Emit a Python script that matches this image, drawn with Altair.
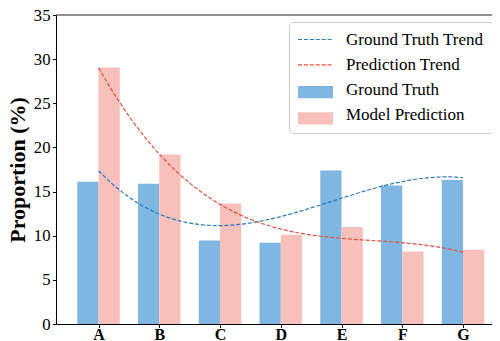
import altair as alt
import pandas as pd

# ---- data ----
categories = ["A", "B", "C", "D", "E", "F", "G"]
ground_truth = [16.1, 15.9, 9.45, 9.2, 17.4, 15.7, 16.3]
model_prediction = [29.05, 19.2, 13.65, 10.1, 11.0, 8.2, 8.4]
y_ticks = [0, 5, 10, 15, 20, 25, 30, 35]

bar_names = ["Ground Truth", "Model Prediction"]
trend_names = ["Ground Truth Trend", "Prediction Trend"]
legend_names = trend_names + bar_names

# ---- styling ----
FONT = "Liberation Serif"
GT_BAR, PR_BAR = "#7fb7e2", "#f7c0bb"
GT_LINE, PR_LINE = "#2a7cc0", "#e8503c"
BAR_W = 0.35
W, H = 436, 309
X_DOMAIN = [-0.70, -0.70 + W / 60.75]
Y_DOMAIN = [0, 35]

idx = list(range(len(categories)))
bars_df = pd.DataFrame({
    "category": categories * 2,
    "idx": idx * 2,
    "series": [bar_names[0]] * len(categories) + [bar_names[1]] * len(categories),
    "value": ground_truth + model_prediction,
})
trend_df = pd.DataFrame({
    "idx": idx * 2,
    "trend": [trend_names[0]] * len(categories) + [trend_names[1]] * len(categories),
    "value": ground_truth + model_prediction,
})

label_expr = "[" + ",".join("'%s'" % c for c in categories) + "][datum.value]"

x_scale = alt.Scale(domain=X_DOMAIN, nice=False, zero=False)
y_scale = alt.Scale(domain=Y_DOMAIN, nice=False)

x_axis = alt.Axis(values=idx, labelExpr=label_expr, title=None, grid=False,
                  labelFontWeight="bold", labelFontSize=16, labelPadding=-1)
y_axis = alt.Axis(values=y_ticks, title="Proportion (%)", grid=False,
                  titlePadding=4)

common_legend = dict(
    title=None, orient="none", legendX=233, legendY=7, padding=9,
    symbolSize=196, symbolStrokeWidth=1.2, symbolOffset=9,
    labelOffset=22, labelFont=FONT, labelFontSize=17, labelColor="black",
    rowPadding=7.3, labelLimit=400,
)

fill_dummy = " "
# Legend of the trend lines: all four labels, dashed strokes on the first two rows
stroke_legend = alt.Legend(
    symbolType="M-2.5,0H2.5", symbolDash=[4.1, 1.8],
    strokeColor="#cccccc", fillColor="white", cornerRadius=4, zindex=1,
    **common_legend)
# Legend of the bars: rectangles overlaid on rows 3 and 4, labels hidden
fill_legend = alt.Legend(
    symbolType="M-2.5,-0.875H2.5V0.875H-2.5Z", labelOpacity=0,
    symbolStrokeColor="transparent",
    strokeColor="transparent", fillColor="transparent", zindex=2,
    **common_legend)

bars = alt.Chart(bars_df).transform_calculate(
    x0="datum.idx + (datum.series == '%s' ? -%f : 0)" % (bar_names[0], BAR_W),
).transform_calculate(
    x1="datum.x0 + %f" % BAR_W,
).mark_rect().encode(
    x=alt.X("x0:Q", scale=x_scale, axis=x_axis),
    x2="x1:Q",
    y=alt.Y("value:Q", scale=y_scale, axis=y_axis),
    y2=alt.datum(0),
    fill=alt.Fill("series:N", legend=fill_legend,
                  scale=alt.Scale(domain=legend_names + [fill_dummy],
                                  range=["transparent", "transparent", GT_BAR, PR_BAR, "transparent"])),
)

trends = alt.Chart(trend_df).transform_regression(
    "idx", "value", method="poly", order=3, groupby=["trend"]
).mark_line(strokeDash=[4.1, 1.8], strokeWidth=1.2).encode(
    x=alt.X("idx:Q", scale=x_scale, axis=x_axis),
    y=alt.Y("value:Q", scale=y_scale, axis=y_axis),
    stroke=alt.Stroke("trend:N", legend=stroke_legend,
                      scale=alt.Scale(domain=legend_names,
                                      range=[GT_LINE, PR_LINE, "transparent", "transparent"])),
)

top_line = alt.Chart(alt.Data(values=[{"k": 0}])).mark_rule(
    color="#222222", strokeWidth=1
).encode(
    x=alt.datum(X_DOMAIN[0], scale=x_scale),
    x2=alt.datum(X_DOMAIN[1]),
    y=alt.datum(Y_DOMAIN[1], scale=y_scale),
)

chart = alt.layer(bars, trends, top_line).properties(
    width=W, height=H,
    autosize=alt.AutoSizeParams(type="none"),
    padding={"left": 48, "top": 7, "right": 0, "bottom": 18},
).configure_view(stroke=None).configure_axis(
    labelFont=FONT, labelFontSize=16.7, labelColor="black",
    titleFont=FONT, titleFontSize=22, titleFontWeight="bold", titleColor="black",
    domainColor="black", domainWidth=1, tickColor="black", tickSize=3.5, tickWidth=1,
    labelPadding=2.5,
)

chart.save("out.html", embed_options={"renderer": "svg", "actions": False})
